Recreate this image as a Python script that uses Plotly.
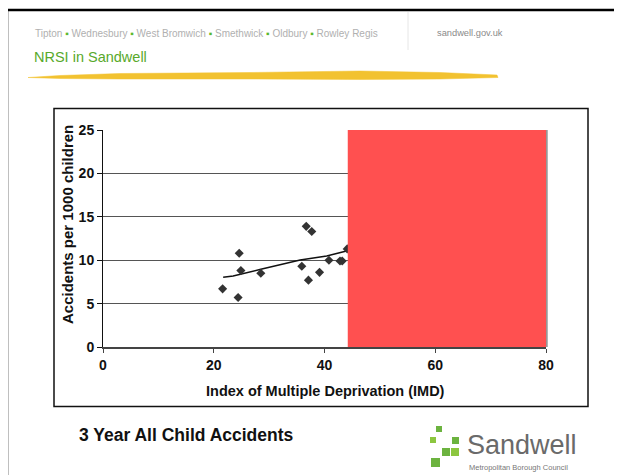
import plotly.graph_objects as go

# ---- data ----
imd = [21.6, 24.4, 24.6, 24.9, 28.5, 35.9, 36.7, 37.7, 37.1, 39.1, 40.8, 42.8, 43.2, 44.1]
rate = [6.7, 5.7, 10.8, 8.8, 8.5, 9.3, 13.9, 13.3, 7.7, 8.6, 10.0, 9.9, 9.9, 11.3]
trend_x = [21.7, 23.5, 28.5, 32.6, 35.6, 40.4, 44.5]
trend_y = [8.03, 8.18, 8.95, 9.56, 10.02, 10.48, 11.15]
mask_x = [44.2, 80]
mask_y = [0, 25]
x_ticks = [0, 20, 40, 60, 80]
y_ticks = [0, 5, 10, 15, 20, 25]
towns = ["Tipton", "Wednesbury", "West Bromwich", "Smethwick", "Oldbury", "Rowley Regis"]

W, H = 622, 475
OFF = 8  # page body margin
# plot area in screen pixels
SL, SR, ST, SB = 103, 546, 130, 347
L, R, T, B = SL - OFF, SR - OFF, ST - OFF, SB - OFF


def PX(x):
    return (x - SL) / (SR - SL)


def PY(y):
    return (SB - y) / (SB - ST)


FONT = "Liberation Sans, Arial, sans-serif"

fig = go.Figure()
fig.add_trace(go.Scatter(x=trend_x, y=trend_y, mode="lines",
                         line=dict(color="#111111", width=1.5), hoverinfo="skip",
                         showlegend=False))
fig.add_trace(go.Scatter(x=imd, y=rate, mode="markers",
                         marker=dict(symbol="diamond", size=7, color="#333333"),
                         showlegend=False))

shapes = []
# red mask rectangle
shapes.append(dict(type="rect", xref="x", yref="y", x0=mask_x[0], x1=mask_x[1],
                   y0=mask_y[0], y1=mask_y[1], fillcolor="#ff5050",
                   line=dict(width=0), layer="above"))
# right plot border
shapes.append(dict(type="line", xref="paper", yref="paper", x0=1.002, x1=1.002, y0=0, y1=1,
                   line=dict(color="#888888", width=1.5), layer="above"))
# chart box
shapes.append(dict(type="rect", xref="paper", yref="paper", x0=PX(54), x1=PX(588),
                   y0=PY(406.5), y1=PY(108.5), line=dict(color="#111111", width=1.5)))
# outer frame (top + left)
shapes.append(dict(type="path", xref="paper", yref="paper",
                   path=f"M {PX(7)},{PY(490)} L {PX(7)},{PY(10)} L {PX(640)},{PY(10)}",
                   line=dict(color="#000000", width=2.5)))
# header separator
shapes.append(dict(type="line", xref="paper", yref="paper", x0=PX(408), x1=PX(408),
                   y0=PY(12), y1=PY(50), line=dict(color="#e6e6e6", width=1)))
# yellow brush stroke
pts = [(28, 77.5), (60, 75.5), (120, 73.5), (250, 72.5), (360, 71), (440, 72.5), (497, 75),
       (498, 77.5), (440, 79), (360, 79.5), (250, 79), (120, 79), (60, 78.5)]
path = "M " + " L ".join(f"{PX(x)},{PY(y)}" for x, y in pts) + " Z"
shapes.append(dict(type="path", xref="paper", yref="paper", path=path,
                   fillcolor="#f2c230", line=dict(color="#f2c230", width=0.5)))
# logo squares
sq = [(436, 426, 6, "#6cb33f"), (430, 437, 6, "#8cc63f"), (452, 437, 7, "#6cb33f"),
      (442, 448, 8, "#6cb33f"), (451, 448, 8, "#8cc63f"), (431, 458, 9, "#6cb33f")]
for x, y, s, c in sq:
    shapes.append(dict(type="rect", xref="paper", yref="paper", x0=PX(x), x1=PX(x + s),
                       y0=PY(y + s), y1=PY(y), fillcolor=c, line=dict(width=0)))

sep = " <span style='color:#5cb82e'>▪</span> "
header = sep.join(towns)

annotations = [
    dict(text=header, x=PX(33), y=PY(33), xanchor="left", yanchor="middle",
         font=dict(family=FONT, size=10, color="#b0b0b0")),
    dict(text="sandwell.gov.uk", x=PX(435), y=PY(33), xanchor="left", yanchor="middle",
         font=dict(family=FONT, size=9.3, color="#8a8a8a")),
    dict(text="NRSI in Sandwell", x=PX(32), y=PY(57), xanchor="left", yanchor="middle",
         font=dict(family=FONT, size=14.5, color="#58a92b")),
    dict(text="Accidents per 1000 children", x=PX(67), y=PY(225), xanchor="center",
         yanchor="middle", textangle=-90,
         font=dict(family=FONT, size=15, color="#111111", weight="bold")),
    dict(text="Index of Multiple Deprivation (IMD)", x=PX(325), y=PY(391), xanchor="center",
         yanchor="middle", font=dict(family=FONT, size=14.5, color="#111111", weight="bold")),
    dict(text="3 Year All Child Accidents", x=PX(77), y=PY(435), xanchor="left",
         yanchor="middle", font=dict(family=FONT, size=17.5, color="#111111", weight="bold")),
    dict(text="Sandwell", x=PX(466), y=PY(445), xanchor="left", yanchor="middle",
         font=dict(family=FONT, size=27, color="#6a6a6a"), borderpad=0),
    dict(text="Metropolitan Borough Council", x=PX(468), y=PY(467), xanchor="left",
         yanchor="middle", font=dict(family=FONT, size=7.5, color="#777777"), borderpad=0),
]
for a in annotations:
    a.update(xref="paper", yref="paper", showarrow=False)

fig.update_layout(
    width=W, height=H,
    margin=dict(l=L, r=W - R, t=T, b=H - B, pad=0),
    paper_bgcolor="white", plot_bgcolor="white",
    shapes=shapes, annotations=annotations,
    xaxis=dict(range=[0, 80], tickvals=x_ticks, showgrid=False, zeroline=False,
               showline=True, linecolor="#444444", linewidth=1.5,
               ticks="outside", ticklen=4, tickcolor="#444444",
               tickfont=dict(family=FONT, size=14, color="#111111", weight="bold")),
    yaxis=dict(range=[0, 25], tickvals=y_ticks, showgrid=True, gridcolor="#555555",
               gridwidth=1, zeroline=False, showline=True, linecolor="#111111",
               linewidth=1, ticks="outside", ticklen=5, tickcolor="#111111",
               tickfont=dict(family=FONT, size=14, color="#111111", weight="bold")),
)

fig.write_html("out.html")
